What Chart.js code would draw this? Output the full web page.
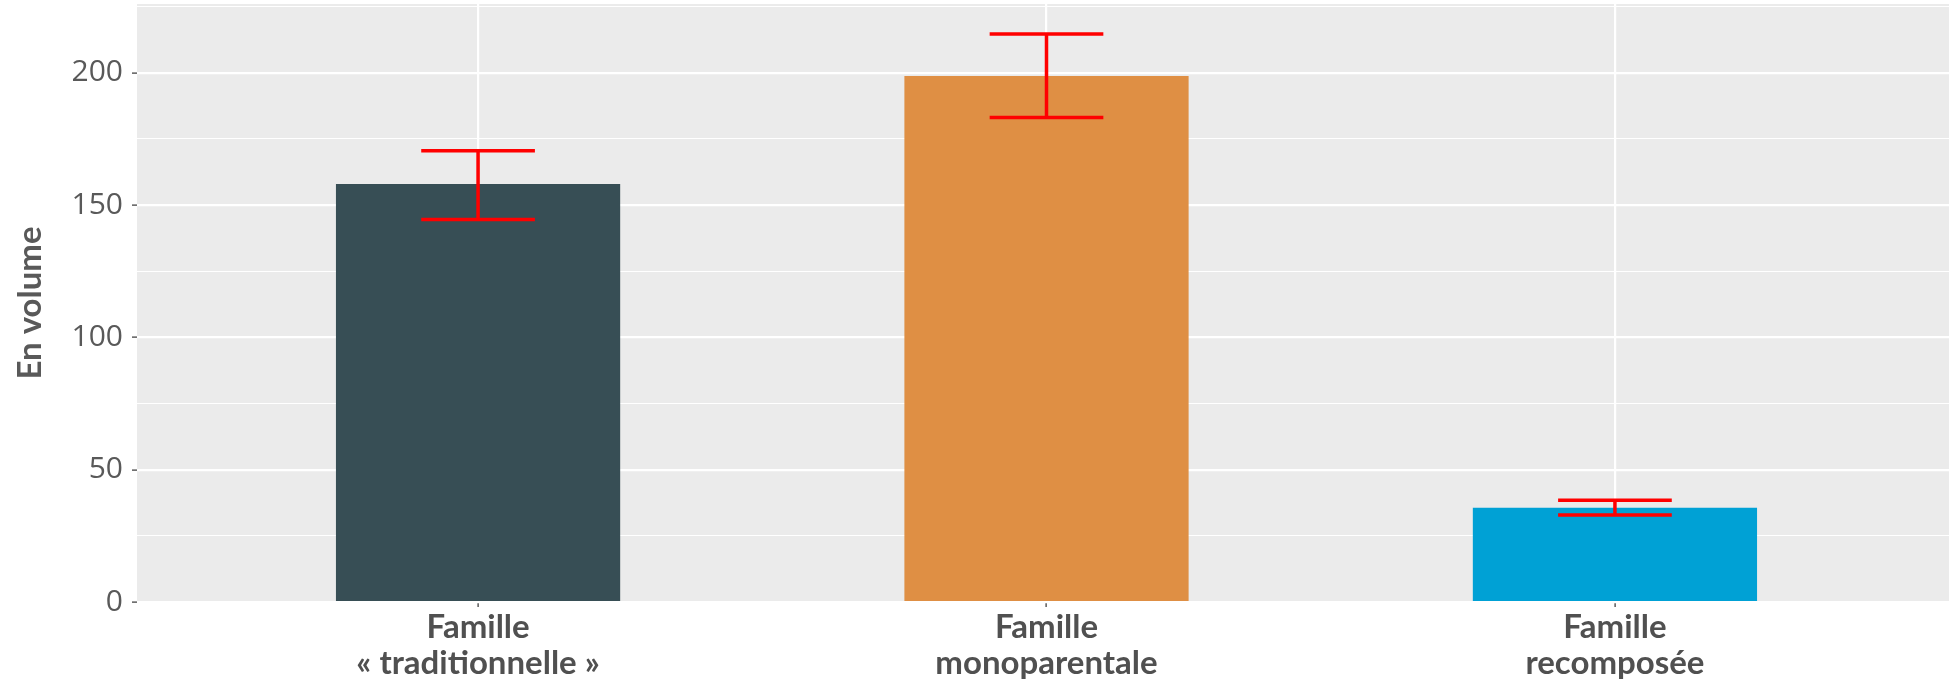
<!DOCTYPE html>
<html>
<head>
<meta charset="utf-8">
<script src="https://cdn.jsdelivr.net/npm/chart.js@4"></script>
<style>
  html, body { margin: 0; padding: 0; background: #ffffff; overflow: hidden; }
  #wrap { width: 1949px; height: 679px; overflow: hidden; position: relative; }
  canvas { display: block; }
</style>
</head>
<body>
<div id="wrap"><canvas id="c" width="1956" height="679"></canvas></div>
<script>
// ---- data ----
const categories = [["Famille", "« traditionnelle »"], ["Famille", "monoparentale"], ["Famille", "recomposée"]];
const values = [158.0, 198.8, 35.6];
const errLow = [144.6, 183.1, 32.9];
const errHigh = [170.5, 214.7, 38.5];
const barColors = ["#374E55", "#DF8F44", "#00A1D5"];
const yAxisTitle = "En volume";
const yMax = 226;

const positions = categories.map((_, i) => i + 1);

const panelBg = {
  id: 'panelBg',
  beforeDraw(chart) {
    const {ctx, chartArea} = chart;
    ctx.save();
    ctx.fillStyle = '#EBEBEB';
    ctx.fillRect(chartArea.left, chartArea.top, chart.width - chartArea.left, chartArea.bottom - chartArea.top);
    ctx.restore();
  }
};

const errorBars = {
  id: 'errorBars',
  afterDatasetsDraw(chart) {
    const {ctx} = chart;
    const xs = chart.scales.x, ys = chart.scales.y;
    ctx.save();
    ctx.strokeStyle = '#FF0000';
    ctx.lineWidth = 3.5;
    ctx.lineCap = 'butt';
    positions.forEach((p, i) => {
      const x = xs.getPixelForValue(p);
      const half = xs.getPixelForValue(p + 0.1) - x;
      const yl = ys.getPixelForValue(errLow[i]);
      const yh = ys.getPixelForValue(errHigh[i]);
      ctx.beginPath();
      ctx.moveTo(x, yl); ctx.lineTo(x, yh);
      ctx.moveTo(x - half, yh); ctx.lineTo(x + half, yh);
      ctx.moveTo(x - half, yl); ctx.lineTo(x + half, yl);
      ctx.stroke();
    });
    ctx.restore();
  }
};

new Chart(document.getElementById('c'), {
  type: 'bar',
  data: {
    datasets: [{
      data: positions.map((p, i) => ({x: p, y: values[i]})),
      backgroundColor: barColors,
      borderWidth: 0,
      barPercentage: 0.5,
      categoryPercentage: 1.0
    }]
  },
  options: {
    responsive: false,
    animation: false,
    devicePixelRatio: 1,
    layout: { padding: { top: 4, right: 0, bottom: -4, left: 0 } },
    plugins: { legend: { display: false }, tooltip: { enabled: false } },
    scales: {
      x: {
        type: 'linear',
        min: 0.4,
        max: 3.6,
        offset: false,
        afterBuildTicks(scale) { scale.ticks = positions.map(v => ({value: v})); },
        grid: { offset: false, color: '#FFFFFF', lineWidth: 2.2, tickColor: '#333333', tickWidth: 1.2, tickLength: 5, drawTicks: true },
        border: { display: false },
        ticks: {
          autoSkip: false,
          maxRotation: 0,
          padding: 2,
          color: '#505050',
          font: { family: 'Lato', weight: 'bold', size: 33, lineHeight: 1.09 },
          callback: (v) => categories[v - 1] || ''
        }
      },
      y: {
        min: 0,
        max: yMax,
        afterFit(scale) { scale.width = 137; scale.paddingTop = 0; scale.paddingBottom = 0; },
        grid: {
          color: '#FFFFFF',
          lineWidth: (c) => (c.tick && c.tick.value % 50 === 0) ? 2.2 : 1.1,
          tickColor: (c) => (c.tick && c.tick.value % 50 === 0) ? '#333333' : 'rgba(0,0,0,0)',
          tickWidth: 1.2,
          tickLength: 5
        },
        border: { display: false },
        ticks: {
          stepSize: 25,
          includeBounds: false,
          padding: 9,
          color: '#595959',
          font: { family: 'Open Sans', size: 30 },
          callback: (v) => (v % 50 === 0 ? String(v) : '')
        },
        title: {
          display: true,
          text: yAxisTitle,
          color: '#595959',
          font: { family: 'Lato', weight: 'bold', size: 33, lineHeight: 1.2 },
          padding: { top: 11, bottom: 0 }
        }
      }
    }
  },
  plugins: [panelBg, errorBars]
});
</script>
</body>
</html>
